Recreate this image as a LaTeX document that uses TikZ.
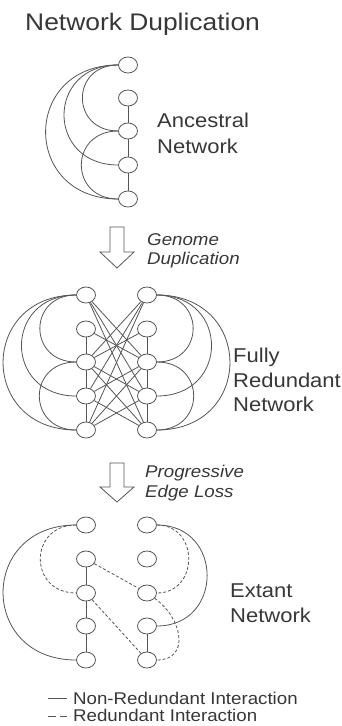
\documentclass[tikz,border=0pt]{standalone}
\usepackage{fontspec}
\setmainfont[FakeStretch=1.1]{Liberation Sans}
\usetikzlibrary{shapes.geometric}

\definecolor{linegray}{RGB}{85,85,85}
\definecolor{txtgray}{RGB}{55,55,55}

\tikzset{
  gene/.style={draw=linegray, ellipse, minimum width=19pt, minimum height=16pt, inner sep=0pt, line width=0.8pt},
  link/.style={draw=linegray, line width=0.8pt},
  redlink/.style={link, dash pattern=on 3pt off 2pt},
  lbl/.style={anchor=base west, inner sep=0pt, text=txtgray, font=\fontsize{20}{24}\selectfont},
  steplbl/.style={anchor=base west, inner sep=0pt, text=txtgray, font=\fontsize{17}{20}\selectfont\itshape},
  keylbl/.style={anchor=base west, inner sep=0pt, text=txtgray, font=\fontsize{17}{20}\selectfont},
  bigarrow/.style={draw=linegray, line width=0.8pt, line join=miter}
}

\begin{document}
\begin{tikzpicture}[x=1pt, y=-1pt]
  \useasboundingbox (0,0) rectangle (341,726);

  \node[anchor=base west, inner sep=0pt, text=txtgray, font=\fontsize{24}{28}\selectfont] (title) at (25,30) {Network Duplication};

  % ancestral network
  \foreach \i/\y in {1/65,2/98,3/131,4/165,5/199}
    \node[gene] (a\i) at (128,\y) {};
  \foreach \i/\j in {2/3,3/4,4/5}
    \draw[link] (a\i) -- (a\j);
  \foreach \i/\j in {1/3,1/4,1/5,3/5}
    \draw[link] (a\i) to[out=180,in=180,looseness=1.85] (a\j);
  \node[lbl] (anc1) at (157,127) {Ancestral};
  \node[lbl] (anc2) at (157,153) {Network};

  % genome duplication
  \draw[bigarrow] (110,227) -- (124,227) -- (124,252) -- (134,252) -- (117,268) -- (100,252) -- (110,252) -- cycle;
  \node[steplbl] (dup1) at (147,245) {Genome};
  \node[steplbl] (dup2) at (147,264) {Duplication};

  % fully redundant network
  \foreach \i/\y in {1/295,2/329,3/362,4/396,5/430} {
    \node[gene] (fl\i) at (86,\y) {};
    \node[gene] (fr\i) at (147,\y) {};
  }
  \foreach \i/\j in {2/3,3/4,4/5} {
    \draw[link] (fl\i) -- (fl\j);
    \draw[link] (fr\i) -- (fr\j);
  }
  \foreach \i/\j in {1/3,1/4,1/5,3/5} {
    \draw[link] (fl\i) to[out=180,in=180,looseness=1.85] (fl\j);
    \draw[link] (fr\i) to[out=0,in=0,looseness=1.85] (fr\j);
  }
  \foreach \i/\j in {1/3,1/4,1/5,2/3,3/4,4/5,3/5} {
    \draw[link] (fl\i) -- (fr\j);
    \draw[link] (fr\i) -- (fl\j);
  }
  \node[lbl] (full1) at (233,362) {Fully};
  \node[lbl] (full2) at (233,387) {Redundant};
  \node[lbl] (full3) at (233,411) {Network};

  % edge loss
  \draw[bigarrow] (110,463) -- (124,463) -- (124,487) -- (134,487) -- (117,502) -- (100,487) -- (110,487) -- cycle;
  \node[steplbl] (loss1) at (145,477) {Progressive};
  \node[steplbl] (loss2) at (145,497) {Edge Loss};

  % extant network
  \foreach \i/\y in {1/525,2/559,3/593,4/626,5/660} {
    \node[gene] (el\i) at (86,\y) {};
    \node[gene] (er\i) at (147,\y) {};
  }
  \foreach \i/\j in {2/3,3/4,4/5}
    \draw[link] (el\i) -- (el\j);
  \draw[link] (er4) -- (er5);
  \draw[link] (el1) to[out=180,in=180,looseness=1.85] (el5);
  \draw[link] (er1) to[out=0,in=0,looseness=1.7] (er4);
  \draw[redlink] (el1) to[out=180,in=180,looseness=1.8] (el3);
  \draw[redlink] (er1) to[out=0,in=0,looseness=1.6] (er3);
  \draw[redlink] (er3) to[out=-35,in=0,looseness=1.4] (er5);
  \draw[redlink] (el2) -- (er3);
  \draw[redlink] (el3) -- (er5);
  \node[lbl] (ext1) at (230,597) {Extant};
  \node[lbl] (ext2) at (230,622) {Network};

  % legend
  \coordinate (k1a) at (48,698);
  \coordinate (k1b) at (67,698);
  \coordinate (k2a) at (48,716);
  \coordinate (k2b) at (67,716);
  \draw[link] (k1a) -- (k1b);
  \draw[link, dash pattern=on 8pt off 4pt] (k2a) -- (k2b);
  \node[keylbl] (key1) at (73,704) {Non-Redundant Interaction};
  \node[keylbl] (key2) at (73,721) {Redundant Interaction};
\end{tikzpicture}
\end{document}
